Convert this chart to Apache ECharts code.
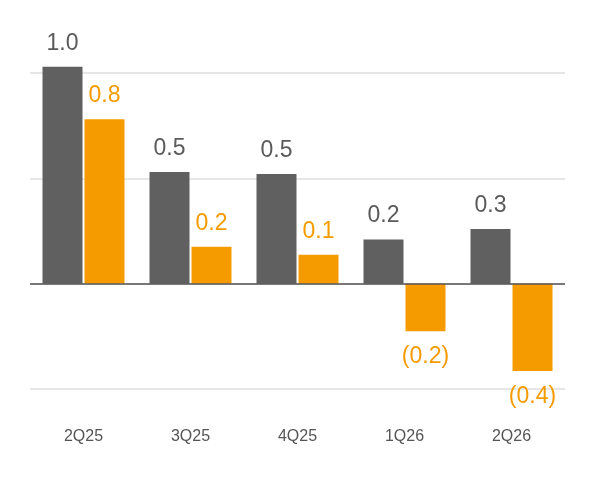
<!DOCTYPE html>
<html>
<head>
<meta charset="utf-8">
<script src="https://cdn.jsdelivr.net/npm/echarts@6/dist/echarts.min.js"></script>
<style>
  html, body { margin: 0; padding: 0; background: #fff; }
  #chart { width: 594px; height: 480px; }
</style>
</head>
<body>
<div id="chart"></div>
<script>
var categories = ['2Q25', '3Q25', '4Q25', '1Q26', '2Q26'];
var greyValues = [1.03, 0.53, 0.52, 0.21, 0.26];
var orangeValues = [0.78, 0.175, 0.137, -0.226, -0.415];

var GREY = '#606060';
var ORANGE = '#F59B00';
var FONT = '"Liberation Sans Narrow", "Liberation Sans", sans-serif';

// 负数用括号显示
function fmt(p) {
    var v = p.value;
    var s = Math.abs(v).toFixed(1);
    return v < 0 ? '(' + s + ')' : s;
}

function barLabel(color) {
    return {
        show: true,
        color: color,
        fontFamily: FONT,
        fontSize: 23,
        distance: 12,
        position: 'top',
        formatter: fmt
    };
}

function toData(arr, color) {
    return arr.map(function(v) {
        var item = { value: v };
        if (v < 0) {
            item.label = { position: 'bottom', distance: 14 };
        }
        return item;
    });
}

var myChart = echarts.init(document.getElementById('chart'));
var option = {
    animation: false,
    grid: { left: 30, right: 29, top: 73, bottom: 91 },
    xAxis: [{
        type: 'category',
        data: categories,
        axisLine: { show: false, onZero: false },
        axisTick: { show: false },
        axisLabel: { color: '#555', fontFamily: FONT, fontSize: 16, margin: 40 }
    }],
    yAxis: [{
        type: 'value',
        min: -0.5,
        max: 1.0,
        interval: 0.5,
        axisLabel: { show: false },
        axisLine: { show: false },
        axisTick: { show: false },
        splitLine: { lineStyle: { color: '#e6e6e6', width: 2 } }
    }],
    series: [{
        type: 'bar',
        barWidth: 40,
        barGap: '5%',
        clip: false,
        data: toData(greyValues),
        itemStyle: { color: GREY },
        label: barLabel('#5a5a5a'),
        markLine: {
            silent: true,
            symbol: 'none',
            label: { show: false },
            lineStyle: { color: '#555', type: 'solid', width: 1.5 },
            data: [{ yAxis: 0 }]
        }
    }, {
        type: 'bar',
        barWidth: 40,
        clip: false,
        data: toData(orangeValues),
        itemStyle: { color: ORANGE },
        label: barLabel(ORANGE)
    }]
};
myChart.setOption(option);
</script>
</body>
</html>
